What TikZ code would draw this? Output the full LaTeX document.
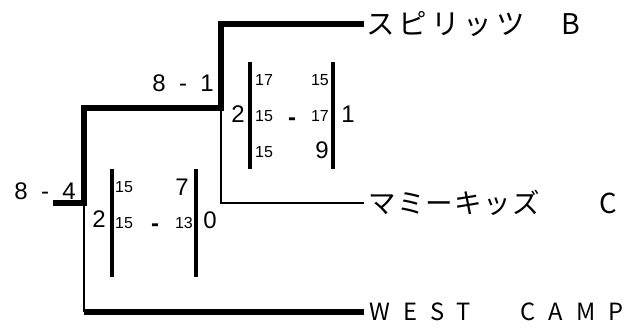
\documentclass[tikz,border=0pt]{standalone}
\usepackage{fontspec}
\setmainfont{Liberation Sans}
\newfontfamily\jpA[LetterSpace=14]{Noto Sans CJK JP}
\newfontfamily\jpB[LetterSpace=5]{Noto Sans CJK JP}
\newfontfamily\jpC[LetterSpace=55]{Noto Sans CJK JP}
\begin{document}
\begin{tikzpicture}[x=1pt,y=1pt,
  heavy/.style={line width=5.5pt,line join=miter},
  light/.style={line width=1.4pt,line join=miter},
  bar/.style={line width=3.8pt},
  big/.style={inner sep=0pt,font=\fontsize{24}{24}\selectfont},
  small/.style={inner sep=0pt,font=\fontsize{16}{16}\selectfont},
  vsdash/.style={inner sep=0pt,anchor=base,font=\fontsize{24}{24}\selectfont\bfseries},
  lab/.style={inner sep=0pt,anchor=west}]
\useasboundingbox (0,0) rectangle (641,329);
% junctions
\coordinate (stub) at (53,126);
\coordinate (j1) at (84,126);
\coordinate (j2) at (84,221);
\coordinate (j3) at (221,221);
\coordinate (j4) at (221,305);
\coordinate (e1) at (364,305);
\coordinate (j5) at (221,126);
\coordinate (e2) at (364,126);
\coordinate (j6) at (84,17);
\coordinate (e3) at (364,17);
% labels
\node[lab,font=\jpA\fontsize{28.5}{28.5}\selectfont] (L1) at ([xshift=2]e1) {スピリッツ　B};
\node[lab,font=\jpB\fontsize{27.5}{27.5}\selectfont] (L2) at ([xshift=4]e2) {マミーキッズ　　C};
\node[lab,font=\jpC\fontsize{23.7}{23.7}\selectfont] (L3) at ([xshift=5]e3) {WEST　CAMP};
% bracket lines
\draw[heavy] (stub) -- (j1) -- (j2) -- (j3) -- (j4) -- (e1);
\draw[light] (j3) -- (j5) -- (e2);
\draw[light] (j1) -- (j6);
\draw[heavy] (j6) -- (e3);
% scores
\node[big,anchor=base east] (s1) at (214,237) {8~~-~~1};
\node[big,anchor=base east] (s2) at (76,129.5) {8~~-~~4};
% upper set box
\coordinate (ub1t) at (250,267); \coordinate (ub1b) at (250,160);
\coordinate (ub2t) at (333,267); \coordinate (ub2b) at (333,160);
\draw[bar] (ub1t) -- (ub1b);
\draw[bar] (ub2t) -- (ub2b);
\node[big,anchor=base] (u2) at (238,206) {2};
\node[big,anchor=base] (u1) at (348,206) {1};
\node[small,anchor=base west] (ua1) at (255,243) {17};
\node[small,anchor=base east] (ub1) at (329,243) {15};
\node[small,anchor=base west] (ua2) at (255,207) {15};
\node[vsdash] (ud) at (292,203) {-};
\node[small,anchor=base east] (ub2) at (329,207) {17};
\node[small,anchor=base west] (ua3) at (255,171) {15};
\node[big,anchor=base east] (ub3) at (329,170) {9};
% lower set box
\coordinate (lb1t) at (112,160); \coordinate (lb1b) at (112,52);
\coordinate (lb2t) at (196,160); \coordinate (lb2b) at (196,52);
\draw[bar] (lb1t) -- (lb1b);
\draw[bar] (lb2t) -- (lb2b);
\node[big,anchor=base] (l2) at (99,101) {2};
\node[big,anchor=base] (l0) at (210,100) {0};
\node[small,anchor=base west] (la1) at (115,136) {15};
\node[big,anchor=base east] (lb1) at (189,133) {7};
\node[small,anchor=base west] (la2) at (115,100) {15};
\node[vsdash] (ld) at (155,97) {-};
\node[small,anchor=base east] (lb2) at (193,100) {13};
\end{tikzpicture}
\end{document}
